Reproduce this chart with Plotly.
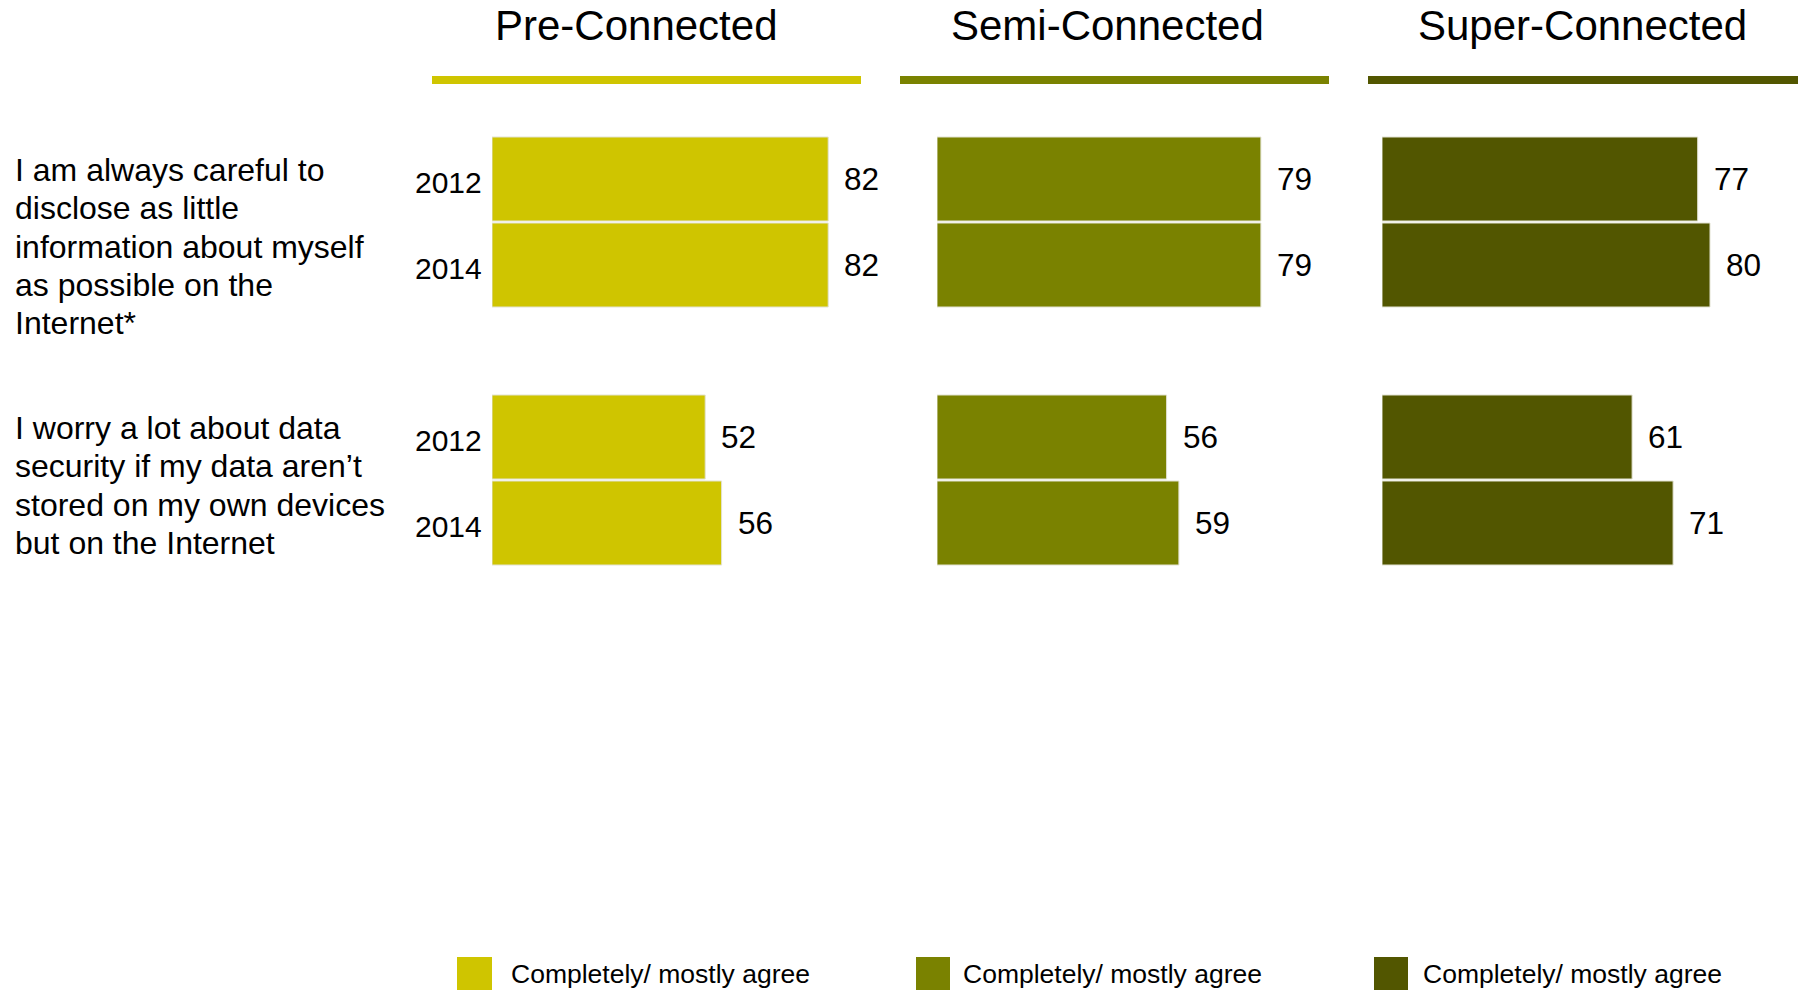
import plotly.graph_objects as go

# ---------------- data ----------------
segments = ["Pre-Connected", "Semi-Connected", "Super-Connected"]
years = ["2012", "2014"]
statements = [
    "I am always careful to<br>disclose as little<br>information about myself<br>as possible on the<br>Internet*",
    "I worry a lot about data<br>security if my data aren’t<br>stored on my own devices<br>but on the Internet",
]
pre_values = [[82, 82], [52, 56]]     # [statement][year]
semi_values = [[79, 79], [56, 59]]
super_values = [[77, 80], [61, 71]]
legend_label = "Completely/ mostly agree"

# ---------------- style ----------------
W, H = 1798, 990
colors = ["#CFC500", "#7A8200", "#525600"]
FONT = "Liberation Sans, Arial, sans-serif"
px_per_unit = 4.1
panel_x0 = [492, 937, 1382]              # pixel of value 0 in each panel
slot_px = 86                              # pixel pitch of bar slots
slot0_center = 179                        # pixel of first slot centre
header_lines = [(432, 861), (900, 1329), (1368, 1798)]
header_centers = [636, 1107, 1582]
legend_sq = [(457, 492), (916, 950), (1374, 1408)]
legend_tx = [509, 961, 1421]

all_values = [pre_values, semi_values, super_values]

fig = go.Figure()
annotations = []
shapes = []
layout_axes = {}

for s, (seg, vals, col) in enumerate(zip(segments, all_values, colors)):
    xa = "x" if s == 0 else f"x{s+1}"
    xs, ys = [], []
    for g, row in enumerate(vals):
        for j, v in enumerate(row):
            xs.append(v)
            ys.append(g * 3 + j)
            annotations.append(dict(
                x=v, y=g * 3 + j, xref=xa, yref="y", text=str(v),
                showarrow=False, xanchor="left", yanchor="middle", xshift=14,
                font=dict(family=FONT, size=31.5, color="black")))
    fig.add_trace(go.Bar(
        x=xs, y=ys, orientation="h", xaxis=xa, yaxis="y",
        width=84 / 86,
        marker=dict(color=col, line=dict(color="#e2e2d2", width=1)),
        showlegend=False, name=seg, hoverinfo="x"))
    key = "xaxis" if s == 0 else f"xaxis{s+1}"
    x0 = panel_x0[s]
    layout_axes[key] = dict(
        domain=[x0 / W, (x0 + 100 * px_per_unit) / W], range=[0, 100],
        visible=False, anchor="y", fixedrange=True)

    # header title + coloured rule
    annotations.append(dict(
        x=header_centers[s] / W, y=1 - 25 / H, xref="paper", yref="paper",
        text=seg, showarrow=False, xanchor="center", yanchor="middle",
        font=dict(family=FONT, size=42, color="black")))
    hx0, hx1 = header_lines[s]
    shapes.append(dict(type="rect", xref="paper", yref="paper",
                       x0=hx0 / W, x1=hx1 / W, y0=1 - 84 / H, y1=1 - 76 / H,
                       fillcolor=col, line=dict(width=0)))

    # legend
    lx0, lx1 = legend_sq[s]
    shapes.append(dict(type="rect", xref="paper", yref="paper",
                       x0=lx0 / W, x1=lx1 / W, y0=1 - 995 / H, y1=1 - 957 / H,
                       fillcolor=col, line=dict(width=0)))
    annotations.append(dict(
        x=legend_tx[s] / W, y=1 - 974 / H, xref="paper", yref="paper",
        text=legend_label, showarrow=False, xanchor="left", yanchor="middle",
        font=dict(family=FONT, size=26.5, color="black")))

# year labels and statement text
for g, stmt in enumerate(statements):
    for j, yr in enumerate(years):
        annotations.append(dict(
            x=0, y=g * 3 + j, xref="x", yref="y", text=yr, showarrow=False,
            xanchor="right", yanchor="middle", xshift=-8, yshift=-3,
            font=dict(family=FONT, size=30, color="black")))
    for i, line in enumerate(stmt.split("<br>")):
        annotations.append(dict(
            x=13 / W, y=g * 3, xref="paper", yref="y", text=line,
            showarrow=False, xanchor="left", yanchor="middle",
            yshift=9 - i * 38.3,
            font=dict(family=FONT, size=32, color="black")))

fig.update_layout(
    width=W, height=H, margin=dict(l=0, r=0, t=0, b=0),
    paper_bgcolor="white", plot_bgcolor="white",
    yaxis=dict(domain=[0, 1],
               range=[(H - slot0_center) / slot_px, -slot0_center / slot_px],
               visible=False, anchor="x", fixedrange=True),
    annotations=annotations, shapes=shapes, showlegend=False,
    barmode="overlay",
    **layout_axes,
)

fig.write_html("out.html")
